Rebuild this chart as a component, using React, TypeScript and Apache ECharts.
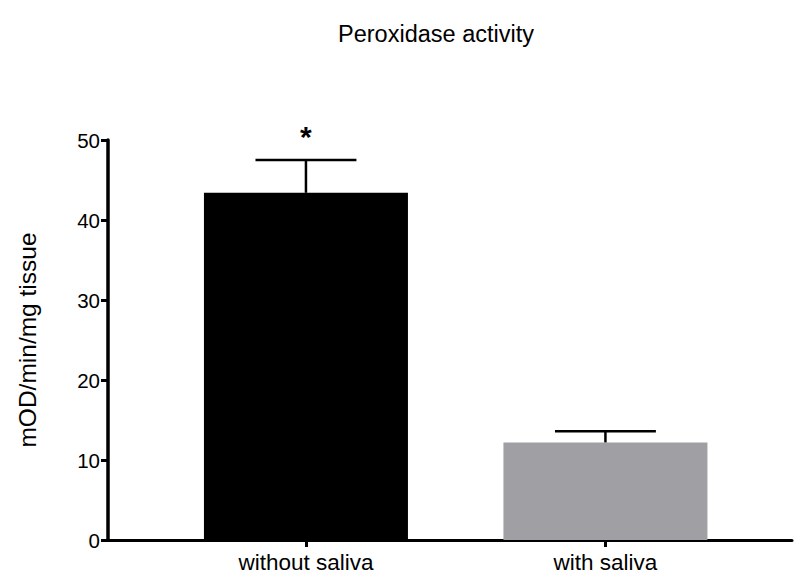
import React, { useEffect, useRef } from "react";
import * as echarts from "echarts";

// Peroxidase activity per group (mean ± SEM)
const categories = ["without saliva", "with saliva"];
const means = [43.4, 12.2];
const sems = [4.1, 1.4];
const significance = ["*", ""];
const barColors = ["#000000", "#a09fa4"];
const yTicks = [0, 10, 20, 30, 40, 50];

const FONT = "'Liberation Sans', Arial, Helvetica, sans-serif";

export default function App() {
  const ref = useRef<HTMLDivElement>(null);

  useEffect(() => {
    document.body.style.margin = "0";
    const chart = echarts.init(ref.current!, undefined, { renderer: "svg" });

    const positions = categories.map((_, i) => i);

    chart.setOption({
      animation: false,
      backgroundColor: "#ffffff",
      textStyle: { fontFamily: FONT, color: "#000" },
      title: {
        text: "Peroxidase activity",
        left: 431,
        top: 17,
        textAlign: "center",
        textStyle: { fontFamily: FONT, fontSize: 23.5, fontWeight: "normal", color: "#000" },
      },
      grid: { left: 108, right: 2, top: 140, bottom: 34, containLabel: false },
      xAxis: {
        type: "value",
        min: -0.661,
        max: 1.623,
        splitLine: { show: false },
        axisLine: { show: true, onZero: false, lineStyle: { color: "#000", width: 3 } },
        axisTick: {
          show: true,
          customValues: positions,
          length: 7,
          lineStyle: { color: "#000", width: 3 },
        },
        axisLabel: {
          customValues: positions,
          formatter: (v: number) => categories[Math.round(v)] ?? "",
          fontFamily: FONT,
          fontSize: 22.5,
          color: "#000",
          margin: 11,
        },
      },
      yAxis: {
        type: "value",
        min: yTicks[0],
        max: yTicks[yTicks.length - 1],
        interval: 10,
        name: "mOD/min/mg tissue",
        nameLocation: "middle",
        nameGap: 68,
        nameTextStyle: { fontFamily: FONT, fontSize: 24.5, color: "#000" },
        splitLine: { show: false },
        axisLine: { show: true, onZero: false, lineStyle: { color: "#000", width: 3.5 } },
        axisTick: { show: true, length: 7, lineStyle: { color: "#000", width: 3 } },
        axisLabel: { fontFamily: FONT, fontSize: 20.5, color: "#000", margin: 8 },
      },
      series: [
        {
          type: "bar",
          barWidth: 204,
          data: means.map((m, i) => ({
            value: [positions[i], m],
            itemStyle: { color: barColors[i] },
          })),
          z: 2,
        },
        {
          type: "custom",
          z: 3,
          data: means.map((m, i) => [positions[i], m, m + sems[i], significance[i]]),
          renderItem: (params: any, api: any) => {
            const x = api.value(0);
            const base = api.coord([x, api.value(1)]);
            const top = api.coord([x, api.value(2)]);
            const half = api.size([0.337, 0])[0] / 2;
            const stroke = { stroke: "#000", lineWidth: 2.5 };
            const children: any[] = [
              { type: "line", shape: { x1: base[0], y1: base[1], x2: top[0], y2: top[1] }, style: stroke },
              { type: "line", shape: { x1: top[0] - half, y1: top[1], x2: top[0] + half, y2: top[1] }, style: stroke },
            ];
            const mark = api.value(3);
            if (mark) {
              children.push({
                type: "text",
                style: {
                  text: String(mark),
                  x: top[0],
                  y: top[1] - 24,
                  align: "center",
                  verticalAlign: "middle",
                  textAlign: "center",
                  textVerticalAlign: "middle",
                  fontFamily: FONT,
                  fontSize: 30,
                  fontWeight: "bold",
                  fill: "#000",
                },
              });
            }
            return { type: "group", children };
          },
        },
      ],
    });

    return () => chart.dispose();
  }, []);

  return <div ref={ref} style={{ width: 794, height: 574 }} />;
}
